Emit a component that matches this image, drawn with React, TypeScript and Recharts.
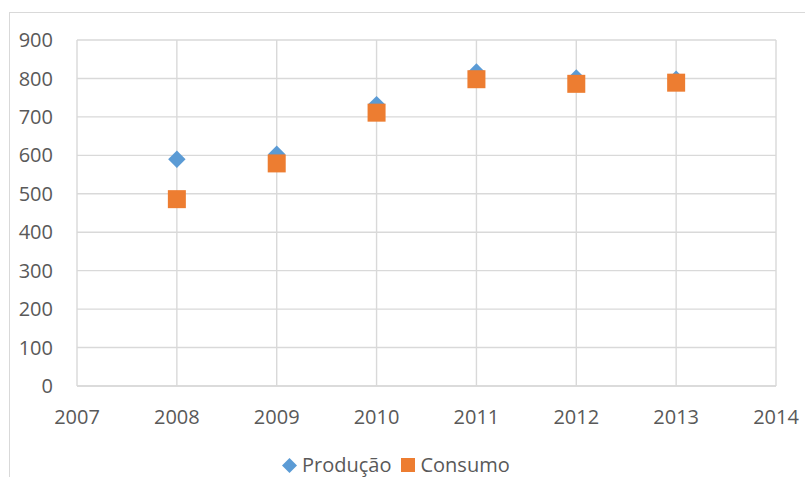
import React from 'react';
import { ScatterChart, Scatter, XAxis, YAxis, CartesianGrid } from 'recharts';

const years = [2008, 2009, 2010, 2011, 2012, 2013];
const producao = [590, 603, 732, 817, 801, 798];
const consumo = [486, 579, 711, 798, 786, 789];
const xTicks = [2007, 2008, 2009, 2010, 2011, 2012, 2013, 2014];
const yTicks = [0, 100, 200, 300, 400, 500, 600, 700, 800, 900];

const BLUE = '#5B9BD5';
const ORANGE = '#ED7D31';
const TEXT = '#595959';
const GRID = '#D9D9D9';
const FONT = '"Open Sans", "Liberation Sans", sans-serif';

const prodData = years.map((x, i) => ({ x, y: producao[i] }));
const consData = years.map((x, i) => ({ x, y: consumo[i] }));

const Diamond = (props: any) => {
  const { cx, cy } = props;
  const r = 8.7;
  return (
    <polygon
      points={`${cx},${cy - r} ${cx + r},${cy} ${cx},${cy + r} ${cx - r},${cy}`}
      fill={BLUE}
    />
  );
};

const Square = (props: any) => {
  const { cx, cy } = props;
  const s = 18;
  return <rect x={cx - s / 2} y={cy - s / 2} width={s} height={s} fill={ORANGE} />;
};

export default function App() {
  return (
    <div style={{ position: 'absolute', left: 0, top: 0, width: 805, height: 477, background: '#fff', overflow: 'hidden' }}>
      <div
        style={{
          position: 'absolute',
          left: 9,
          top: 12,
          width: 900,
          height: 600,
          borderLeft: `1px solid ${GRID}`,
          borderTop: `1px solid ${GRID}`,
        }}
      />
      <div style={{ position: 'absolute', left: 0, top: 0 }}>
        <ScatterChart width={805} height={477} margin={{ top: 40, right: 29, bottom: 41, left: 0 }}>
          <CartesianGrid stroke={GRID} strokeWidth={1.4} />
          <XAxis
            type="number"
            dataKey="x"
            domain={[2007, 2014]}
            ticks={xTicks}
            allowDecimals={false}
            tickSize={0}
            tickMargin={24}
            axisLine={{ stroke: GRID, strokeWidth: 1.4 }}
            tickLine={false}
            height={50}
            tick={{ fill: TEXT, fontSize: 20, fontFamily: FONT }}
          />
          <YAxis
            type="number"
            dataKey="y"
            domain={[0, 900]}
            ticks={yTicks}
            width={77}
            tickSize={0}
            tickMargin={24}
            axisLine={false}
            tickLine={false}
            tick={{ fill: TEXT, fontSize: 20, fontFamily: FONT }}
          />
          <Scatter name="Produção" data={prodData} shape={<Diamond />} isAnimationActive={false} />
          <Scatter name="Consumo" data={consData} shape={<Square />} isAnimationActive={false} />
        </ScatterChart>
      </div>
      <div
        style={{
          position: 'absolute',
          left: 282,
          top: 451,
          display: 'flex',
          alignItems: 'center',
          fontFamily: FONT,
          fontSize: 20,
          color: TEXT,
          lineHeight: '28px',
          whiteSpace: 'nowrap',
        }}
      >
        <svg width={15} height={15} style={{ marginRight: 5 }}>
          <polygon points="7.5,0 15,7.5 7.5,15 0,7.5" fill={BLUE} />
        </svg>
        <span>Produção</span>
        <svg width={14} height={14} style={{ marginLeft: 10, marginRight: 5 }}>
          <rect x={0} y={0} width={14} height={14} fill={ORANGE} />
        </svg>
        <span>Consumo</span>
      </div>
    </div>
  );
}
